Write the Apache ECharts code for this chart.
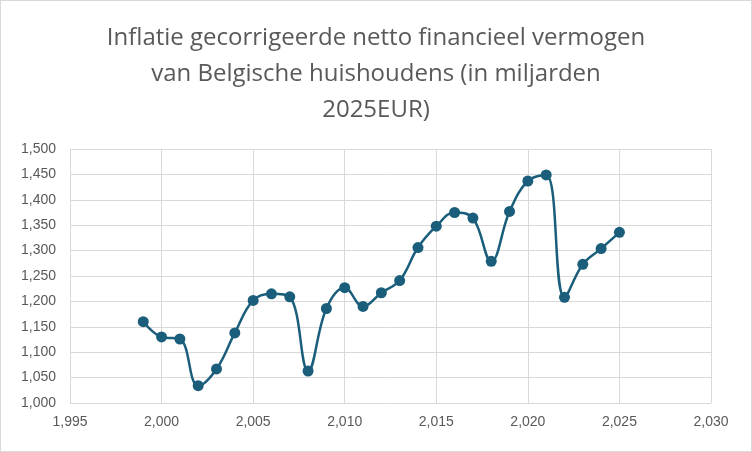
<!DOCTYPE html>
<html lang="nl">
<head>
<meta charset="UTF-8">
<script src="https://cdn.jsdelivr.net/npm/echarts@6/dist/echarts.min.js"></script>
<style>
html,body{margin:0;padding:0;background:#fff;}
#chartBox{width:750px;height:450px;border:1px solid #d9d9d9;}
</style>
</head>
<body>
<div id="chartBox"></div>
<script>
// jaren en vermogen (miljard 2025EUR)
const years = [1999,2000,2001,2002,2003,2004,2005,2006,2007,2008,2009,2010,2011,2012,2013,2014,2015,2016,2017,2018,2019,2020,2021,2022,2023,2024,2025];
const wealth = [1160,1130,1126,1034,1067,1138,1202,1215,1209,1063,1186,1227,1190,1217,1241,1306,1348,1375,1364,1279,1377,1437,1449,1208,1273,1304,1336];

let chartObj = echarts.init(document.getElementById('chartBox'));
chartObj.setOption({
    animation: false,
    title: {
        text: 'Inflatie gecorrigeerde netto financieel vermogen\nvan Belgische huishoudens (in miljarden\n2025EUR)',
        left: 'center',
        top: 14,
        textStyle: {fontSize: 24, fontWeight: 'normal', color: '#595959', fontFamily: 'Open Sans', lineHeight: 36}
    },
    grid: {left: 69, right: 40, top: 148, bottom: 48},
    xAxis: {
        type: 'value', min: 1995, max: 2030, interval: 5,
        axisLine: {show: false}, axisTick: {show: false},
        splitLine: {lineStyle: {color: '#d9d9d9'}},
        axisLabel: {color: '#595959', fontSize: 14, margin: 12}
    },
    yAxis: {
        type: 'value', min: 1000, max: 1500, interval: 50,
        axisLine: {show: false}, axisTick: {show: false},
        splitLine: {lineStyle: {color: '#d9d9d9'}},
        axisLabel: {color: '#595959', fontSize: 14, margin: 14}
    },
    series: [{
        type: 'line',
        smooth: 0.4,
        data: years.map((y, i) => [y, wealth[i]]),
        symbol: 'circle', symbolSize: 11,
        lineStyle: {width: 2.5, color: '#1b5e7b'},
        itemStyle: {color: '#1b5e7b'}
    }]
});
</script>
</body>
</html>
